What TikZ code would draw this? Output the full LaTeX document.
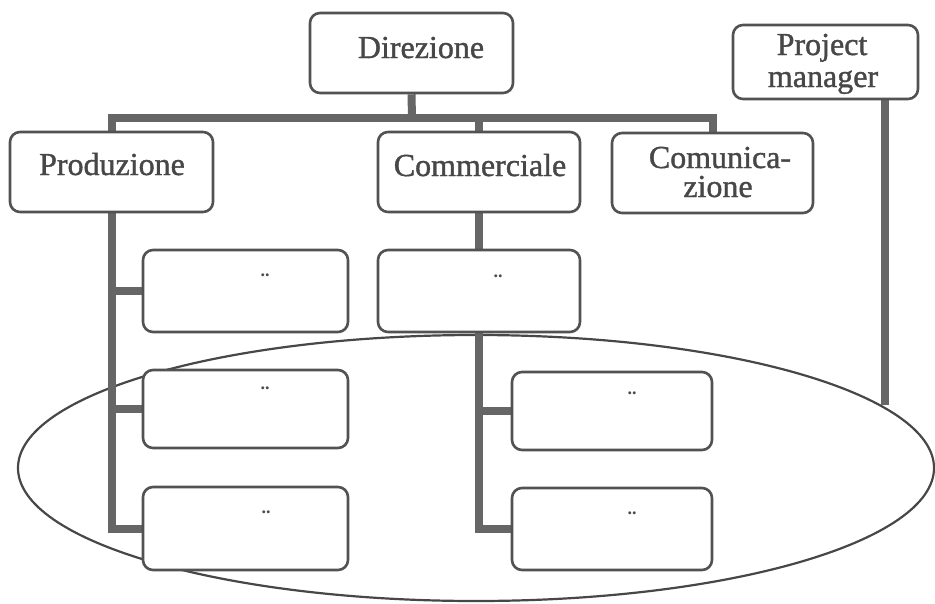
\documentclass[tikz,border=0pt]{standalone}
\usepackage{fontspec}
\setmainfont{Liberation Serif}
\newfontfamily\lblfont{Liberation Serif}[FakeBold=1.2]
\usetikzlibrary{backgrounds}
\begin{document}
\begin{tikzpicture}[x=1pt,y=-1pt,
  box/.style={draw=black!68, line width=2.6pt, fill=white, rounded corners=10pt, inner sep=0pt},
  conn/.style={draw=black!60, line width=8pt},
  lbl/.style={anchor=base, text=black!72, font=\lblfont\fontsize{32}{30}\selectfont, align=center, inner sep=0pt},
  mrk/.style={anchor=center, text=black!70, font=\fontsize{18}{18}\selectfont\bfseries, inner sep=0pt},
  oval/.style={draw=black!72, line width=2.2pt}]
\useasboundingbox (0,0) rectangle (935,603);
% boxes
\node[box, minimum width=203pt, minimum height=80pt] (dir)  at (411.5,53) {};
\node[box, minimum width=203pt, minimum height=80pt] (prod) at (111.5,172) {};
\node[box, minimum width=202pt, minimum height=80pt] (comm) at (479,172) {};
\node[box, minimum width=201pt, minimum height=80pt] (com)  at (712.5,173) {};
\node[box, minimum width=185pt, minimum height=74pt] (pm)   at (825.5,62) {};
\node[box, minimum width=205pt, minimum height=82pt] (p1) at (245.5,291) {};
\node[box, minimum width=205pt, minimum height=78pt] (p2) at (245.5,409) {};
\node[box, minimum width=205pt, minimum height=83pt] (p3) at (245.5,528.5) {};
\node[box, minimum width=202pt, minimum height=82pt] (c1) at (479,291) {};
\node[box, minimum width=200pt, minimum height=78pt] (c2) at (612,411) {};
\node[box, minimum width=200pt, minimum height=82pt] (c3) at (612,529) {};
\coordinate (bar) at (412,118);
\coordinate (pmend) at (885,405);
% ellipse and connectors behind the boxes
\begin{scope}[on background layer]
\draw[oval] (476,468) ellipse [x radius=458pt, y radius=133pt];
\draw[conn] (dir.south) -- (bar);
\draw[conn] (prod.north) |- (bar) -| (com.north);
\draw[conn] (comm.north) -- (comm.north |- bar);
\draw[conn] (prod.south) |- (p3.west);
\draw[conn] (prod.south |- p1.west) -- (p1.west);
\draw[conn] (prod.south |- p2.west) -- (p2.west);
\draw[conn] (comm.south) -- (c1.north);
\draw[conn] (c1.south) |- (c3.west);
\draw[conn] (c1.south |- c2.west) -- (c2.west);
\draw[conn] (pm.south -| pmend) -- (pmend);
\end{scope}
% texts
\node[lbl] (tdir)  at (421,58)  {Direzione};
\node[lbl] (tprod) at (112,175) {Produzione};
\node[lbl] (tcomm) at (480,176) {Commerciale};
\node[lbl] (tcom1) at (720,168) {Comunica-};
\node[lbl] (tcom2) at (718,197) {zione};
\node[lbl] (tpm1)  at (822,55)  {Project};
\node[lbl] (tpm2)  at (823,87)  {manager};
% small marks
\node[mrk] (m1) at (265,275) {..};
\node[mrk] (m2) at (265,388) {..};
\node[mrk] (m3) at (266,512) {..};
\node[mrk] (m4) at (498,276) {..};
\node[mrk] (m5) at (632,393) {..};
\node[mrk] (m6) at (632,513) {..};
\end{tikzpicture}
\end{document}
